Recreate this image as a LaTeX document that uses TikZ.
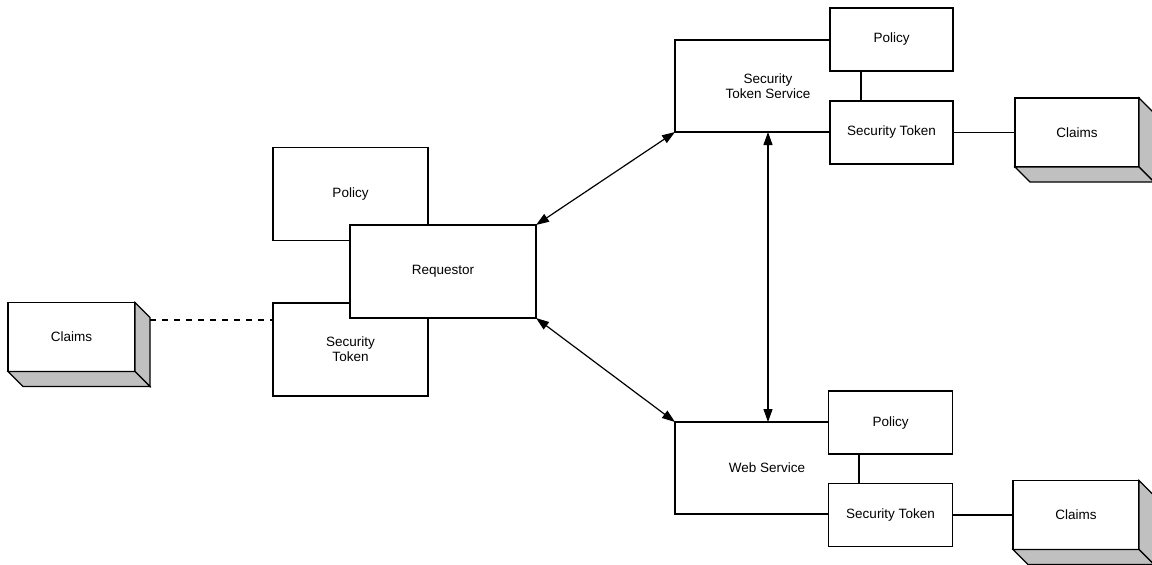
\documentclass[tikz,border=0pt]{standalone}
\usepackage{fontspec}
\setmainfont{Liberation Sans}
\usetikzlibrary{arrows.meta}
\definecolor{shade}{RGB}{192,192,192}
\tikzset{
  box/.style = {draw, fill=white, outer sep=0pt, inner sep=1pt, align=center,
    font=\fontsize{6.75}{7.6}\selectfont},
  bigbox/.style = {box, minimum width=77.5pt, minimum height=46.5pt},
  smallbox/.style = {box, minimum width=62pt, minimum height=31.5pt},
  claims/.style = {smallbox, minimum height=34.5pt},
  link/.style = {{Triangle[length=6.5pt,width=4.5pt]}-{Triangle[length=6.5pt,width=4.5pt]}},
}
\begin{document}
\begin{tikzpicture}[x=0.5pt, y=-0.5pt, line width=0.6pt]
  \useasboundingbox (0,0) rectangle (1152,564);
  % requestor side
  \node[bigbox] (pol) at (350.5,194) {Policy};
  \node[bigbox] (tok) at (350.5,349.5) {Security\\Token};
  \node[bigbox, minimum width=93pt] (req) at (443,271.5) {Requestor};
  \node[claims, minimum width=63.5pt] (cl) at (71.5,337) {Claims};
  % token service
  \node[bigbox, minimum width=93pt, minimum height=46pt] (sts) at (768,86) {Security\\Token Service};
  \node[smallbox, minimum width=61.5pt] (stspol) at (891.5,39.5) {Policy};
  \node[smallbox, minimum width=61.5pt] (ststok) at (891.5,132.5) {Security Token};
  \node[claims] (stscl) at (1077,132.5) {Claims};
  % web service
  \node[bigbox, minimum width=92pt, minimum height=46pt] (ws) at (767,468) {Web Service};
  \node[smallbox] (wspol) at (890.5,422.5) {Policy};
  \node[smallbox] (wstok) at (890.5,515) {Security Token};
  \node[claims, minimum width=63pt] (wscl) at (1076,515) {Claims};
  %
  \foreach \c in {cl, stscl, wscl} {
    \filldraw[fill=shade] (\c.north east) -- ([shift={(15,15)}]\c.north east)
      -- ([shift={(15,15)}]\c.south east) -- (\c.south east) -- cycle;
    \filldraw[fill=shade] (\c.south west) -- ([shift={(15,15)}]\c.south west)
      -- ([shift={(15,15)}]\c.south east) -- (\c.south east) -- cycle;
  }
  %
  \draw[dashed] ([shift={(15,-17)}]cl.east) coordinate (d) -- (d -| tok.west);
  \draw (ststok) -- (stscl);
  \draw (wstok) -- (wscl);
  \draw[link] (req.north east) -- (sts.south west);
  \draw[link] (req.south east) -- (ws.north west);
  \draw[link] (sts.south) -- (sts.south |- ws.north);
\end{tikzpicture}
\end{document}
